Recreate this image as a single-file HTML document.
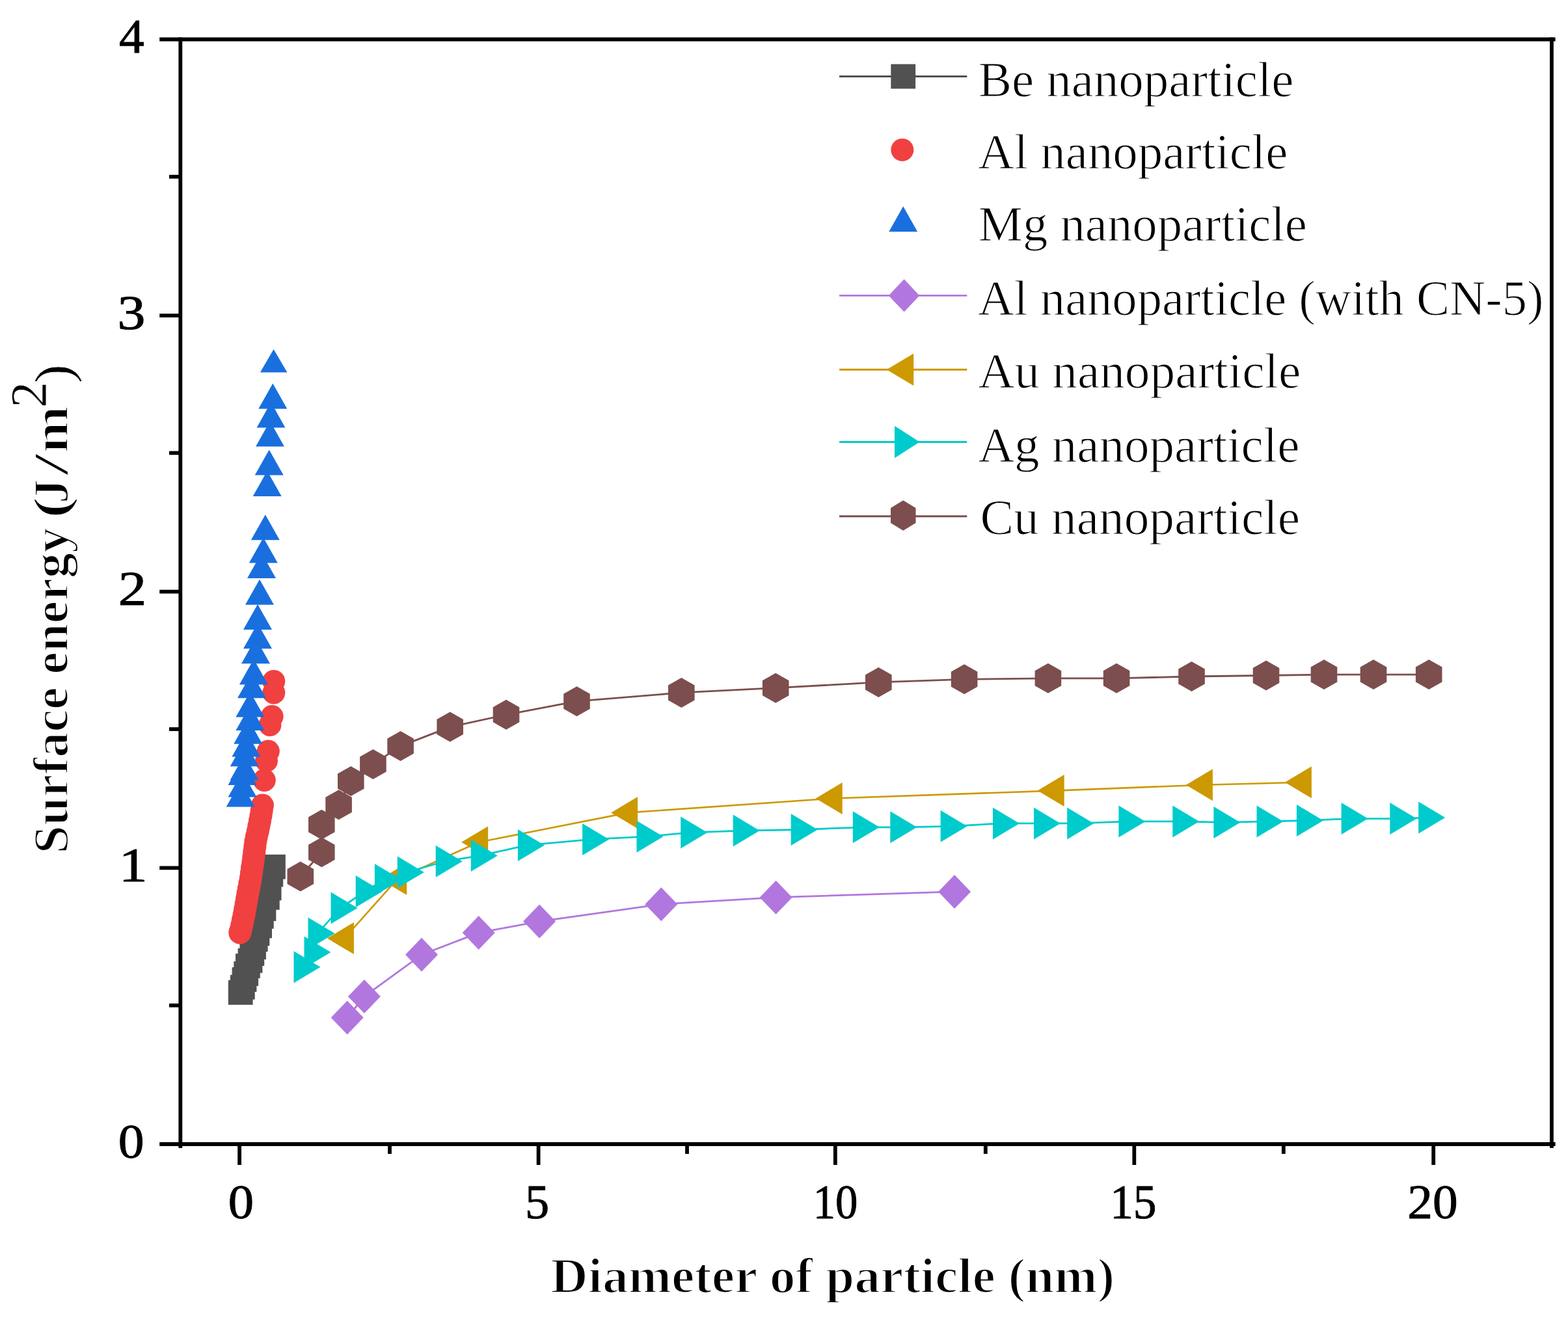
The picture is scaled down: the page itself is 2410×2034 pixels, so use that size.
<!DOCTYPE html>
<html><head><meta charset="utf-8"><title>Surface energy vs diameter</title>
<style>html,body{margin:0;padding:0;background:#fff;}svg{display:block;}</style></head>
<body>
<svg width="2410" height="2034" viewBox="0 0 2410 2034">
<rect width="100%" height="100%" fill="#fff"/>
<g fill="#515151">
<polyline fill="none" stroke="#515151" stroke-width="2.8" stroke-linejoin="round" points="369.7,1525.9 372.8,1517.7 375.5,1506 378.2,1496.9 380.9,1485.1 384.5,1476.9 387.3,1466.1 390,1456.1 392.7,1444.3 395.4,1435.2 399.1,1423.4 401.8,1408.9 405.4,1397.1 410.8,1379.9 413.6,1365.4 416.3,1344.5 419.9,1332.7"/>
<rect x="350.8" y="1507" width="37.8" height="37.8"/>
<rect x="353.9" y="1498.8" width="37.8" height="37.8"/>
<rect x="356.6" y="1487.1" width="37.8" height="37.8"/>
<rect x="359.3" y="1478" width="37.8" height="37.8"/>
<rect x="362" y="1466.2" width="37.8" height="37.8"/>
<rect x="365.6" y="1458" width="37.8" height="37.8"/>
<rect x="368.4" y="1447.2" width="37.8" height="37.8"/>
<rect x="371.1" y="1437.2" width="37.8" height="37.8"/>
<rect x="373.8" y="1425.4" width="37.8" height="37.8"/>
<rect x="376.5" y="1416.3" width="37.8" height="37.8"/>
<rect x="380.2" y="1404.5" width="37.8" height="37.8"/>
<rect x="382.9" y="1390" width="37.8" height="37.8"/>
<rect x="386.5" y="1378.2" width="37.8" height="37.8"/>
<rect x="391.9" y="1361" width="37.8" height="37.8"/>
<rect x="394.7" y="1346.5" width="37.8" height="37.8"/>
<rect x="397.4" y="1325.6" width="37.8" height="37.8"/>
<rect x="401" y="1313.8" width="37.8" height="37.8"/>
</g>
<g fill="#F14040">
<circle cx="368.8" cy="1434" r="17.5"/>
<circle cx="369.9" cy="1430" r="17.5"/>
<circle cx="371.9" cy="1422" r="17.5"/>
<circle cx="373.5" cy="1414" r="17.5"/>
<circle cx="375.2" cy="1406" r="17.5"/>
<circle cx="376.7" cy="1398" r="17.5"/>
<circle cx="378.1" cy="1390" r="17.5"/>
<circle cx="379.5" cy="1382" r="17.5"/>
<circle cx="380.9" cy="1374" r="17.5"/>
<circle cx="382.4" cy="1366" r="17.5"/>
<circle cx="383.9" cy="1358" r="17.5"/>
<circle cx="385.4" cy="1350" r="17.5"/>
<circle cx="386.5" cy="1342" r="17.5"/>
<circle cx="387.6" cy="1334" r="17.5"/>
<circle cx="388.8" cy="1326" r="17.5"/>
<circle cx="389.8" cy="1318" r="17.5"/>
<circle cx="390.8" cy="1310" r="17.5"/>
<circle cx="391.8" cy="1302" r="17.5"/>
<circle cx="392.8" cy="1294" r="17.5"/>
<circle cx="394.4" cy="1286" r="17.5"/>
<circle cx="396.3" cy="1278" r="17.5"/>
<circle cx="397.9" cy="1270" r="17.5"/>
<circle cx="399.5" cy="1262" r="17.5"/>
<circle cx="401" cy="1254" r="17.5"/>
<circle cx="402.2" cy="1246" r="17.5"/>
<circle cx="403.4" cy="1238" r="17.5"/>
<circle cx="406.3" cy="1199.5" r="17.5"/>
<circle cx="409.5" cy="1169.6" r="17.5"/>
<circle cx="412.3" cy="1155" r="17.5"/>
<circle cx="414.9" cy="1114.5" r="17.5"/>
<circle cx="418.1" cy="1101.5" r="17.5"/>
<circle cx="420.8" cy="1065" r="17.5"/>
<circle cx="420.8" cy="1047.4" r="17.5"/>
</g>
<g fill="#1A6FDF">
<polygon points="347.7,1240.5 391.7,1240.5 369.7,1201.5"/>
<polygon points="350.5,1225.4 394.5,1225.4 372.5,1186.4"/>
<polygon points="350.5,1207 394.5,1207 372.5,1168"/>
<polygon points="353.7,1199.2 397.7,1199.2 375.7,1160.2"/>
<polygon points="353.7,1178.3 397.7,1178.3 375.7,1139.3"/>
<polygon points="356.4,1163.5 400.4,1163.5 378.4,1124.5"/>
<polygon points="359.2,1143.7 403.2,1143.7 381.2,1104.7"/>
<polygon points="362.4,1123 406.4,1123 384.4,1084"/>
<polygon points="362.4,1102.4 406.4,1102.4 384.4,1063.4"/>
<polygon points="365,1073.3 409,1073.3 387,1034.3"/>
<polygon points="367.9,1052.4 411.9,1052.4 389.9,1013.4"/>
<polygon points="371,1020.3 415,1020.3 393,981.3"/>
<polygon points="374,997.3 418,997.3 396,958.3"/>
<polygon points="374,967.9 418,967.9 396,928.9"/>
<polygon points="377,929.8 421,929.8 399,890.8"/>
<polygon points="380,888.9 424,888.9 402,849.9"/>
<polygon points="382.8,865.6 426.8,865.6 404.8,826.6"/>
<polygon points="385.8,830.3 429.8,830.3 407.8,791.3"/>
<polygon points="388.7,762.9 432.7,762.9 410.7,723.9"/>
<polygon points="391.7,730.6 435.7,730.6 413.7,691.6"/>
<polygon points="393,686.6 437,686.6 415,647.6"/>
<polygon points="394.5,657.5 438.5,657.5 416.5,618.5"/>
<polygon points="397.3,628.5 441.3,628.5 419.3,589.5"/>
<polygon points="399.9,572.6 441.4,572.6 420.6,537.1"/>
</g>
<g fill="#B177DE">
<polyline fill="none" stroke="#B177DE" stroke-width="2.8" stroke-linejoin="round" points="533.7,1564.5 559.9,1532 648,1467.8 735.7,1434.1 829.1,1416.6 1016.3,1390.2 1192.6,1379.7 1467.1,1370.9"/>
<polygon points="533.7,1538.5 558.7,1564.5 533.7,1590.5 508.7,1564.5"/>
<polygon points="559.9,1506 584.9,1532 559.9,1558 534.9,1532"/>
<polygon points="648,1441.8 673,1467.8 648,1493.8 623,1467.8"/>
<polygon points="735.7,1408.1 760.7,1434.1 735.7,1460.1 710.7,1434.1"/>
<polygon points="829.1,1390.6 854.1,1416.6 829.1,1442.6 804.1,1416.6"/>
<polygon points="1016.3,1364.2 1041.3,1390.2 1016.3,1416.2 991.3,1390.2"/>
<polygon points="1192.6,1353.7 1217.6,1379.7 1192.6,1405.7 1167.6,1379.7"/>
<polygon points="1467.1,1344.9 1492.1,1370.9 1467.1,1396.9 1442.1,1370.9"/>
</g>
<g fill="#CC9900">
<polyline fill="none" stroke="#CC9900" stroke-width="2.6" stroke-linejoin="round" points="529.4,1442.6 610.7,1351.4 735.7,1294.8 965.6,1249.4 1280.2,1227.5 1621.2,1215.6 1849.4,1206.7 2001.4,1202.7"/>
<polygon points="502.9,1442.6 543.9,1418.1 543.9,1467.1"/>
<polygon points="584.2,1351.4 625.2,1326.9 625.2,1375.9"/>
<polygon points="709.2,1294.8 750.2,1270.3 750.2,1319.3"/>
<polygon points="939.1,1249.4 980.1,1224.9 980.1,1273.9"/>
<polygon points="1253.7,1227.5 1294.7,1203 1294.7,1252"/>
<polygon points="1594.7,1215.6 1635.7,1191.1 1635.7,1240.1"/>
<polygon points="1822.9,1206.7 1863.9,1182.2 1863.9,1231.2"/>
<polygon points="1974.9,1202.7 2015.9,1178.2 2015.9,1227.2"/>
</g>
<g fill="#00CBCC">
<polyline fill="none" stroke="#00CBCC" stroke-width="2.8" stroke-linejoin="round" points="466,1486.7 482,1464 488,1435 523,1396 561.2,1370.5 590.4,1352.4 625.3,1341 684.2,1324.2 738.3,1315.4 810.4,1299.4 909.6,1290.4 993,1286.2 1060.7,1279.9 1141.2,1277.1 1230.2,1275.5 1325.3,1271.8 1382.8,1271.8 1460.1,1270.3 1540.5,1265.9 1603.5,1265.9 1654.7,1265.9 1733.9,1262.9 1816.8,1262.9 1879.9,1264.4 1946,1262.9 2007.4,1261.5 2076.1,1258.6 2150.8,1258.6 2194.7,1257.1"/>
<polygon points="492.5,1486.7 451.5,1462.2 451.5,1511.2"/>
<polygon points="508.5,1464 467.5,1439.5 467.5,1488.5"/>
<polygon points="514.5,1435 473.5,1410.5 473.5,1459.5"/>
<polygon points="549.5,1396 508.5,1371.5 508.5,1420.5"/>
<polygon points="587.7,1370.5 546.7,1346 546.7,1395"/>
<polygon points="616.9,1352.4 575.9,1327.9 575.9,1376.9"/>
<polygon points="651.8,1341 610.8,1316.5 610.8,1365.5"/>
<polygon points="710.7,1324.2 669.7,1299.7 669.7,1348.7"/>
<polygon points="764.8,1315.4 723.8,1290.9 723.8,1339.9"/>
<polygon points="836.9,1299.4 795.9,1274.9 795.9,1323.9"/>
<polygon points="936.1,1290.4 895.1,1265.9 895.1,1314.9"/>
<polygon points="1019.5,1286.2 978.5,1261.7 978.5,1310.7"/>
<polygon points="1087.2,1279.9 1046.2,1255.4 1046.2,1304.4"/>
<polygon points="1167.7,1277.1 1126.7,1252.6 1126.7,1301.6"/>
<polygon points="1256.7,1275.5 1215.7,1251 1215.7,1300"/>
<polygon points="1351.8,1271.8 1310.8,1247.3 1310.8,1296.3"/>
<polygon points="1409.3,1271.8 1368.3,1247.3 1368.3,1296.3"/>
<polygon points="1486.6,1270.3 1445.6,1245.8 1445.6,1294.8"/>
<polygon points="1567,1265.9 1526,1241.4 1526,1290.4"/>
<polygon points="1630,1265.9 1589,1241.4 1589,1290.4"/>
<polygon points="1681.2,1265.9 1640.2,1241.4 1640.2,1290.4"/>
<polygon points="1760.4,1262.9 1719.4,1238.4 1719.4,1287.4"/>
<polygon points="1843.3,1262.9 1802.3,1238.4 1802.3,1287.4"/>
<polygon points="1906.4,1264.4 1865.4,1239.9 1865.4,1288.9"/>
<polygon points="1972.5,1262.9 1931.5,1238.4 1931.5,1287.4"/>
<polygon points="2033.9,1261.5 1992.9,1237 1992.9,1286"/>
<polygon points="2102.6,1258.6 2061.6,1234.1 2061.6,1283.1"/>
<polygon points="2177.3,1258.6 2136.3,1234.1 2136.3,1283.1"/>
<polygon points="2221.2,1257.1 2180.2,1232.6 2180.2,1281.6"/>
</g>
<g fill="#7D4E4E">
<polyline fill="none" stroke="#7D4E4E" stroke-width="2.8" stroke-linejoin="round" points="461.8,1347.5 494.3,1310.3 494.3,1267.7 520.6,1237.3 539.3,1201 573.4,1174.9 615.6,1147.1 691.7,1117.6 778,1098.8 886.5,1078.2 1047.3,1064.9 1192.2,1057.7 1350.3,1048.9 1482.1,1044.3 1610.9,1042.8 1716.1,1042.8 1831.5,1040 1946,1038.5 2035,1037.1 2111,1037.1 2196.2,1037.1"/>
<polygon points="461.8,1324.5 482.1,1336 482.1,1359 461.8,1370.5 441.5,1359 441.5,1336"/>
<polygon points="494.3,1287.3 514.6,1298.8 514.6,1321.8 494.3,1333.3 474,1321.8 474,1298.8"/>
<polygon points="494.3,1244.7 514.6,1256.2 514.6,1279.2 494.3,1290.7 474,1279.2 474,1256.2"/>
<polygon points="520.6,1214.3 540.9,1225.8 540.9,1248.8 520.6,1260.3 500.3,1248.8 500.3,1225.8"/>
<polygon points="539.3,1178 559.6,1189.5 559.6,1212.5 539.3,1224 519,1212.5 519,1189.5"/>
<polygon points="573.4,1151.9 593.7,1163.4 593.7,1186.4 573.4,1197.9 553.1,1186.4 553.1,1163.4"/>
<polygon points="615.6,1124.1 635.9,1135.6 635.9,1158.6 615.6,1170.1 595.3,1158.6 595.3,1135.6"/>
<polygon points="691.7,1094.6 712,1106.1 712,1129.1 691.7,1140.6 671.4,1129.1 671.4,1106.1"/>
<polygon points="778,1075.8 798.3,1087.3 798.3,1110.3 778,1121.8 757.7,1110.3 757.7,1087.3"/>
<polygon points="886.5,1055.2 906.8,1066.7 906.8,1089.7 886.5,1101.2 866.2,1089.7 866.2,1066.7"/>
<polygon points="1047.3,1041.9 1067.6,1053.4 1067.6,1076.4 1047.3,1087.9 1027,1076.4 1027,1053.4"/>
<polygon points="1192.2,1034.7 1212.5,1046.2 1212.5,1069.2 1192.2,1080.7 1171.9,1069.2 1171.9,1046.2"/>
<polygon points="1350.3,1025.9 1370.6,1037.4 1370.6,1060.4 1350.3,1071.9 1330,1060.4 1330,1037.4"/>
<polygon points="1482.1,1021.3 1502.4,1032.8 1502.4,1055.8 1482.1,1067.3 1461.8,1055.8 1461.8,1032.8"/>
<polygon points="1610.9,1019.8 1631.2,1031.3 1631.2,1054.3 1610.9,1065.8 1590.6,1054.3 1590.6,1031.3"/>
<polygon points="1716.1,1019.8 1736.4,1031.3 1736.4,1054.3 1716.1,1065.8 1695.8,1054.3 1695.8,1031.3"/>
<polygon points="1831.5,1017 1851.8,1028.5 1851.8,1051.5 1831.5,1063 1811.2,1051.5 1811.2,1028.5"/>
<polygon points="1946,1015.5 1966.3,1027 1966.3,1050 1946,1061.5 1925.7,1050 1925.7,1027"/>
<polygon points="2035,1014.1 2055.3,1025.6 2055.3,1048.6 2035,1060.1 2014.7,1048.6 2014.7,1025.6"/>
<polygon points="2111,1014.1 2131.3,1025.6 2131.3,1048.6 2111,1060.1 2090.7,1048.6 2090.7,1025.6"/>
<polygon points="2196.2,1014.1 2216.5,1025.6 2216.5,1048.6 2196.2,1060.1 2175.9,1048.6 2175.9,1025.6"/>
</g>
<g stroke="#000" stroke-width="5.8" fill="none" stroke-linecap="butt">
<path d="M245.2 60.5H2390.6" />
<path d="M245.2 1759H2390.6" />
<path d="M277.3 57.6V1765" />
<path d="M2384.9 57.6V1765" />
<path d="M245.2 1334.3H277.3" />
<path d="M245.2 909.7H277.3" />
<path d="M245.2 485.1H277.3" />
<path d="M260 1545.7H277.3" />
<path d="M260 1121H277.3" />
<path d="M260 696.4H277.3" />
<path d="M260 271.7H277.3" />
<path d="M368.1 1759V1791" />
<path d="M827.6 1759V1791" />
<path d="M1283.8 1759V1791" />
<path d="M1743.3 1759V1791" />
<path d="M2203.2 1759V1791" />
<path d="M599 1759V1774" />
<path d="M1056 1759V1774" />
<path d="M1514.8 1759V1774" />
<path d="M1972.8 1759V1774" />
</g>
<g font-family="'Liberation Serif', 'Times New Roman', serif" fill="#000">
<text transform="matrix(1.0758 0 0 1 181.85 1779.50)" font-size="74" font-weight="normal" stroke="#000" stroke-width="1.0">0</text>
<text transform="matrix(1.1852 0 0 1 182.79 1354.90)" font-size="74" font-weight="normal" stroke="#000" stroke-width="1.0">1</text>
<text transform="matrix(1.1719 0 0 1 181.66 930.20)" font-size="74" font-weight="normal" stroke="#000" stroke-width="1.0">2</text>
<text transform="matrix(1.1594 0 0 1 180.62 505.60)" font-size="74" font-weight="normal" stroke="#000" stroke-width="1.0">3</text>
<text transform="matrix(1.0444 0 0 1 183.06 81.00)" font-size="74" font-weight="normal" stroke="#000" stroke-width="1.0">4</text>
<text transform="matrix(1.0636 0 0 1 350.77 1872.60)" font-size="74" font-weight="normal" stroke="#000" stroke-width="1.0">0</text>
<text transform="matrix(1.0031 0 0 1 807.09 1872.60)" font-size="74" font-weight="normal" stroke="#000" stroke-width="1.0">5</text>
<text transform="matrix(0.9288 0 0 1 1249.73 1872.60)" font-size="74" font-weight="normal" stroke="#000" stroke-width="1.0">10</text>
<text transform="matrix(0.9636 0 0 1 1706.22 1872.60)" font-size="74" font-weight="normal" stroke="#000" stroke-width="1.0">15</text>
<text transform="matrix(1.0457 0 0 1 2163.21 1872.60)" font-size="74" font-weight="normal" stroke="#000" stroke-width="1.0">20</text>
<text transform="matrix(1.0472 0 0 1 846.31 1987.40)" font-size="76" font-weight="bold" stroke="#fff" stroke-width="2.2">Diameter of particle (nm)</text>
<text transform="translate(104.3 0) rotate(-90)"><tspan x="-1312.44" y="0.00" textLength="501.63" lengthAdjust="spacingAndGlyphs" font-size="76" font-weight="bold" stroke="#fff" stroke-width="2.2">Surface energy</tspan> <tspan x="-797.21" y="0.00" textLength="33.61" lengthAdjust="spacingAndGlyphs" font-size="76" font-weight="bold" stroke="#fff" stroke-width="2.2">(</tspan><tspan x="-773.97" y="0.00" textLength="37.75" lengthAdjust="spacingAndGlyphs" font-size="76" font-weight="bold" stroke="#fff" stroke-width="2.2">J</tspan><tspan x="-731.23" y="0.00" textLength="34.36" lengthAdjust="spacingAndGlyphs" font-size="76" font-weight="bold" stroke="#fff" stroke-width="2.2">/</tspan><tspan x="-696.44" y="0.00" textLength="72.59" lengthAdjust="spacingAndGlyphs" font-size="76" font-weight="bold" stroke="#fff" stroke-width="2.2">m</tspan><tspan x="-626.68" y="-34.50" textLength="39.98" lengthAdjust="spacingAndGlyphs" font-size="78" font-weight="normal" stroke="#fff" stroke-width="0.6">2</tspan><tspan x="-589.19" y="4.70" textLength="29.18" lengthAdjust="spacingAndGlyphs" font-size="80" font-weight="normal" stroke="#fff" stroke-width="0.6">)</tspan></text>
<text transform="matrix(1.0121 0 0 1 1503.66 148.20)" font-size="76" font-weight="normal" stroke="#fff" stroke-width="1.2">Be nanoparticle</text>
<text transform="matrix(1.0120 0 0 1 1503.19 259.20)" font-size="76" font-weight="normal" stroke="#fff" stroke-width="1.2">Al nanoparticle</text>
<text transform="matrix(1.0099 0 0 1 1503.67 370.40)" font-size="76" font-weight="normal" stroke="#fff" stroke-width="1.2">Mg nanoparticle</text>
<text transform="matrix(1.0072 0 0 1 1503.19 484.30)" font-size="76" font-weight="normal" stroke="#fff" stroke-width="1.2">Al nanoparticle (with CN-5)</text>
<text transform="matrix(1.0178 0 0 1 1503.38 595.80)" font-size="76" font-weight="normal" stroke="#fff" stroke-width="1.2">Au nanoparticle</text>
<text transform="matrix(1.0134 0 0 1 1503.39 709.90)" font-size="76" font-weight="normal" stroke="#fff" stroke-width="1.2">Ag nanoparticle</text>
<text transform="matrix(1.0176 0 0 1 1506.45 820.60)" font-size="76" font-weight="normal" stroke="#fff" stroke-width="1.2">Cu nanoparticle</text>
</g>
<path d="M1290 117.5H1486.3" stroke="#515151" stroke-width="2.9"/>
<g fill="#515151">
<rect x="1369.3" y="98.6" width="37.8" height="37.8"/>
</g>
<g fill="#F14040">
<circle cx="1386.8" cy="230.4" r="17.5"/>
</g>
<g fill="#1A6FDF">
<polygon points="1366.2,356.3 1410.2,356.3 1388.2,317.3"/>
</g>
<path d="M1290 454.4H1486.3" stroke="#B177DE" stroke-width="2.9"/>
<g fill="#B177DE">
<polygon points="1389.6,429.3 1413.3,454.4 1389.6,479.5 1365.8,454.4"/>
</g>
<path d="M1290 568.3H1486.3" stroke="#CC9900" stroke-width="2.9"/>
<g fill="#CC9900">
<polygon points="1362.8,568.3 1404.2,543.4 1404.2,593.1"/>
</g>
<path d="M1290 679.5H1486.3" stroke="#00CBCC" stroke-width="2.9"/>
<g fill="#00CBCC">
<polygon points="1413.5,679.5 1375,654.8 1375,704.2"/>
</g>
<path d="M1290 793.8H1486.3" stroke="#7D4E4E" stroke-width="2.9"/>
<g fill="#7D4E4E">
<polygon points="1388.2,769.2 1407.5,780.9 1407.5,804.1 1388.2,815.8 1369,804.1 1369,780.9"/>
</g>
</svg>
</body></html>
